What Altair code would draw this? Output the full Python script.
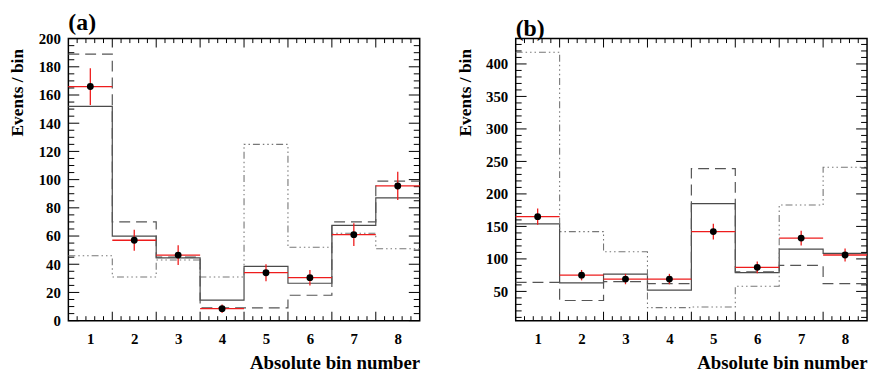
import altair as alt
import pandas as pd

# ---------------- data ----------------
bins = [1, 2, 3, 4, 5, 6, 7, 8]

a_solid = [152, 60, 44.5, 14.5, 38.5, 26.5, 67.5, 87]
a_dashed = [189, 70, 45, 9, 9, 18, 70, 99]
a_dashdot = [46, 31, 43, 31, 125, 52, 62, 51]
a_data = [166, 57, 46.5, 8.5, 34, 30.5, 61, 95.5]
a_err = [13, 7.5, 7, 3, 6, 5.5, 8, 10]

b_solid = [154, 63, 76.5, 52, 185, 79, 115, 108.5]
b_dashed = [64, 36, 65, 62, 239, 80, 90, 62]
b_dashdot = [418, 142, 111, 25, 26, 58, 183, 241]
b_data = [165, 75, 69, 69, 142, 87, 132, 106]
b_err = [12.5, 8, 8, 8, 12, 9, 11.5, 10]

a_ydomain = [0, 200]
a_ylabels = [0, 20, 40, 60, 80, 100, 120, 140, 160, 180, 200]
b_ydomain = [5, 439]
b_ylabels = [50, 100, 150, 200, 250, 300, 350, 400]

W, H = 355, 285
FONT = "Liberation Serif"
RED = "#ee1c1c"


def step_df(vals):
    edges = [b - 0.5 for b in bins] + [bins[-1] + 0.5]
    return pd.DataFrame({"x": edges, "y": list(vals) + [vals[-1]]})


def panel(title, solid, dashed, dashdot, data, err, ydom, ylabels, ymajor_step, yminor_step):
    xs = alt.Scale(domain=[0.5, 8.5], nice=False, zero=False)
    ys = alt.Scale(domain=ydom, nice=False, zero=False)

    xaxis = alt.Axis(
        values=bins, format="d", ticks=False, domain=False, grid=False,
        labelFont=FONT, labelFontWeight="bold", labelFontSize=15, labelColor="black",
        labelPadding=11,
        title="Absolute bin number", titleFont=FONT, titleFontWeight="bold",
        titleFontSize=19, titleColor="black", titleAnchor="end", titleAlign="right",
        titleX=W, titleY=48, titleBaseline="alphabetic")
    yaxis = alt.Axis(
        values=ylabels, format="d", ticks=False, domain=False, grid=False,
        labelFont=FONT, labelFontWeight="bold", labelFontSize=15, labelColor="black",
        labelPadding=8,
        title="Events / bin", titleFont=FONT, titleFontWeight="bold",
        titleFontSize=17.5, titleColor="black", titleAnchor="end", titleAlign="right",
        titleX=-51, titleY=10, titleBaseline="middle", titleAngle=270)

    def X(f):
        return alt.X(f, type="quantitative", scale=xs, axis=xaxis)

    def Y(f):
        return alt.Y(f, type="quantitative", scale=ys, axis=yaxis)

    l_solid = alt.Chart(step_df(solid)).mark_line(
        interpolate="step-after", color="#4a4a4a", strokeWidth=1.2).encode(x=X("x"), y=Y("y"))
    l_dashed = alt.Chart(step_df(dashed)).mark_line(
        interpolate="step-after", color="#555555", strokeWidth=1.2,
        strokeDash=[11, 6]).encode(x=X("x"), y=Y("y"))
    l_dashdot = alt.Chart(step_df(dashdot)).mark_line(
        interpolate="step-after", color="#777777", strokeWidth=1.1,
        strokeDash=[7, 3, 1.5, 3, 1.5, 3, 1.5, 3]).encode(x=X("x"), y=Y("y"))

    pts = pd.DataFrame({"b": bins, "v": data, "e": err})
    pts["lo"] = pts["b"] - 0.5
    pts["hi"] = pts["b"] + 0.5
    pts["vlo"] = pts["v"] - pts["e"]
    pts["vhi"] = pts["v"] + pts["e"]

    xerr = alt.Chart(pts).mark_rule(color=RED, strokeWidth=1.3).encode(
        x=X("lo"), x2="hi:Q", y=Y("v"))
    yerr = alt.Chart(pts).mark_rule(color=RED, strokeWidth=1.3).encode(
        x=X("b"), y=Y("vlo"), y2="vhi:Q")
    dots = alt.Chart(pts).mark_circle(color="black", opacity=1, size=48).encode(
        x=X("b"), y=Y("v"))

    # inward frame ticks (ROOT style)
    lo_t = int(ydom[0] // yminor_step + 1) * yminor_step if ydom[0] % yminor_step else ydom[0]
    yt = []
    v = lo_t
    while v <= ydom[1]:
        yt.append(v)
        v += yminor_step
    ymaj = pd.DataFrame({"y": [t for t in yt if t % ymajor_step == 0]})
    ymin = pd.DataFrame({"y": [t for t in yt if t % ymajor_step != 0]})
    xmaj = pd.DataFrame({"x": [b + 0.5 for b in bins[:-1]]})
    xmin = pd.DataFrame({"x": [b - 0.5 + k * 0.2 for b in bins for k in (1, 2, 3, 4)]})

    tk = dict(color="black", strokeWidth=1)
    ticks = [
        alt.Chart(ymaj).mark_rule(**tk).encode(y=Y("y"), x=alt.value(0), x2=alt.value(11)),
        alt.Chart(ymaj).mark_rule(**tk).encode(y=Y("y"), x=alt.value(W), x2=alt.value(W - 11)),
        alt.Chart(ymin).mark_rule(**tk).encode(y=Y("y"), x=alt.value(0), x2=alt.value(6)),
        alt.Chart(ymin).mark_rule(**tk).encode(y=Y("y"), x=alt.value(W), x2=alt.value(W - 6)),
        alt.Chart(xmaj).mark_rule(**tk).encode(x=X("x"), y=alt.value(H), y2=alt.value(H - 9)),
        alt.Chart(xmaj).mark_rule(**tk).encode(x=X("x"), y=alt.value(0), y2=alt.value(9)),
        alt.Chart(xmin).mark_rule(**tk).encode(x=X("x"), y=alt.value(H), y2=alt.value(H - 4.5)),
        alt.Chart(xmin).mark_rule(**tk).encode(x=X("x"), y=alt.value(0), y2=alt.value(4.5)),
    ]

    return alt.layer(l_solid, l_dashdot, l_dashed, *ticks, xerr, yerr, dots).properties(
        width=W, height=H,
        title=alt.TitleParams(title, anchor="start", frame="group", font=FONT,
                              fontWeight="bold", fontSize=24, color="black", offset=-3),
    )


pa = panel("(a)", a_solid, a_dashed, a_dashdot, a_data, a_err, a_ydomain, a_ylabels, 20, 5)
pb = panel("(b)", b_solid, b_dashed, b_dashdot, b_data, b_err, b_ydomain, b_ylabels, 50, 10)

chart = alt.hconcat(pa, pb, spacing=97, bounds="flush").properties(
    padding={"left": 0, "top": 0, "right": 0, "bottom": 0}
).configure_view(stroke="black", strokeWidth=1.5).configure_axis(
    labelFont=FONT, titleFont=FONT, labelFontWeight="bold", titleFontWeight="bold"
).configure_title(font=FONT)

chart.save("out.html", embed_options={"renderer": "svg", "actions": False})
